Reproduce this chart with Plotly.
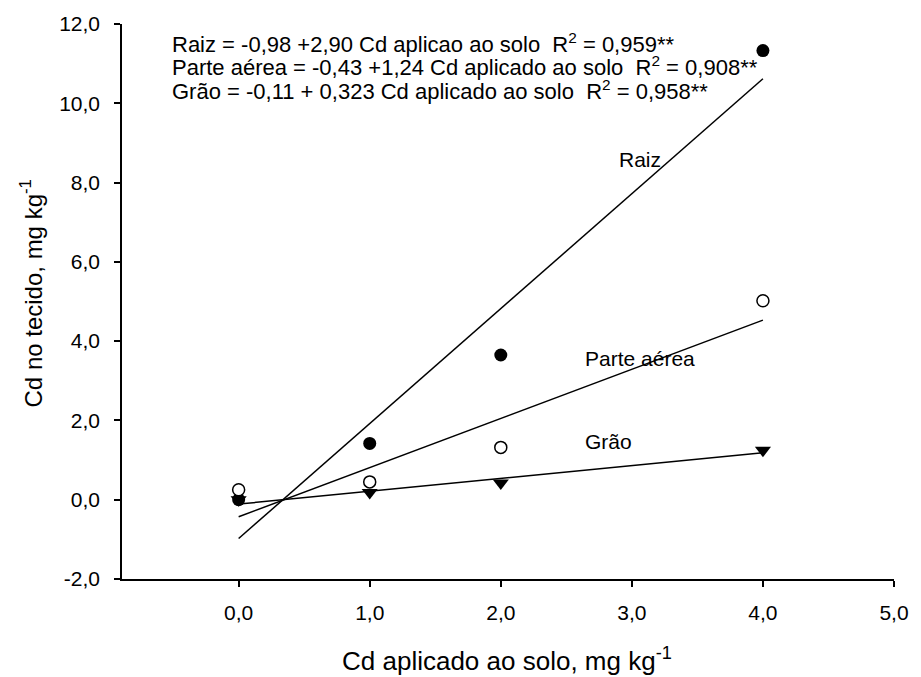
import plotly.graph_objects as go

# Data
cd_aplicado = [0, 1, 2, 4]
raiz = [0.0, 1.42, 3.65, 11.33]
parte_aerea = [0.25, 0.45, 1.32, 5.02]
grao = [0.0, 0.18, 0.42, 1.25]

# Regression coefficients (intercept, slope)
coef_raiz = (-0.98, 2.90)
coef_parte = (-0.43, 1.24)
coef_grao = (-0.11, 0.323)
fit_x = [0, 4]

x_ticks = [0, 1, 2, 3, 4, 5]
x_tick_labels = ["0,0", "1,0", "2,0", "3,0", "4,0", "5,0"]
y_ticks = [-2, 0, 2, 4, 6, 8, 10, 12]
y_tick_labels = ["-2,0", "0,0", "2,0", "4,0", "6,0", "8,0", "10,0", "12,0"]

FONT = "Liberation Sans, Arial, sans-serif"

fig = go.Figure()

def fit(c):
    return [c[0] + c[1] * x for x in fit_x]

for c in (coef_raiz, coef_parte, coef_grao):
    fig.add_trace(go.Scatter(x=fit_x, y=fit(c), mode="lines",
                             line=dict(color="black", width=1.5),
                             showlegend=False, hoverinfo="skip"))

fig.add_trace(go.Scatter(x=cd_aplicado, y=raiz, mode="markers", name="Raiz",
                         marker=dict(symbol="circle", size=13, color="black"),
                         showlegend=False))
fig.add_trace(go.Scatter(x=cd_aplicado, y=parte_aerea, mode="markers", name="Parte aérea",
                         marker=dict(symbol="circle", size=12, color="white",
                                     line=dict(color="black", width=1.5)),
                         showlegend=False))
fig.add_trace(go.Scatter(x=cd_aplicado, y=grao, mode="markers", name="Grão",
                         marker=dict(symbol="triangle-down", size=14, color="black"),
                         showlegend=False))

# Series labels
labels = [("Raiz", 3.06, 8.59), ("Parte aérea", 3.06, 3.55), ("Grão", 2.82, 1.46)]
for t, x, y in labels:
    fig.add_annotation(x=x, y=y, text=t, showarrow=False,
                       font=dict(family=FONT, size=21, color="black"))

equations = [
    "Raiz = -0,98 +2,90 Cd aplicao ao solo  R<sup>2</sup> = 0,959**",
    "Parte aérea = -0,43 +1,24 Cd aplicado ao solo  R<sup>2</sup> = 0,908**",
    "Grão = -0,11 + 0,323 Cd aplicado ao solo  R<sup>2</sup> = 0,958**",
]
eq_y = [42, 65, 89]
for t, py in zip(equations, eq_y):
    fig.add_annotation(xref="paper", yref="paper",
                       x=(170 - 122) / 780, y=1 - (py - 23) / 556,
                       xanchor="left", yanchor="middle", text=t, showarrow=False,
                       font=dict(family=FONT, size=22, color="black"))

# Axis titles
fig.add_annotation(xref="paper", yref="paper", x=(511 - 122) / 780, y=1 - (660 - 23) / 556,
                   text="Cd aplicado ao solo, mg kg<sup>-1</sup>", showarrow=False,
                   xanchor="center", yanchor="middle",
                   font=dict(family=FONT, size=26, color="black"))
fig.add_annotation(xref="paper", yref="paper", x=(30 - 122) / 780, y=1 - (293 - 23) / 556,
                   text="Cd no tecido, mg kg<sup>-1</sup>", showarrow=False, textangle=-90,
                   xanchor="center", yanchor="middle",
                   font=dict(family=FONT, size=24, color="black"))

fig.update_layout(
    width=921, height=677,
    margin=dict(l=122, r=19, t=23, b=98),
    plot_bgcolor="white", paper_bgcolor="white",
    font=dict(family=FONT, size=21, color="black"),
    xaxis=dict(range=[-0.89, 5], tickvals=x_ticks, ticktext=x_tick_labels,
               showline=True, linecolor="black", linewidth=1.5, showgrid=False,
               zeroline=False, ticks="outside", ticklen=6, tickwidth=1.5,
               tickcolor="black", ticklabelstandoff=8,
               tickfont=dict(family=FONT, size=21, color="black")),
    yaxis=dict(range=[-2, 12], tickvals=y_ticks, ticktext=y_tick_labels,
               showline=True, linecolor="black", linewidth=1.5, showgrid=False,
               zeroline=False, ticks="outside", ticklen=6, tickwidth=1.5,
               tickcolor="black", ticklabelstandoff=10,
               tickfont=dict(family=FONT, size=21, color="black")),
)

fig.write_html("out.html")
